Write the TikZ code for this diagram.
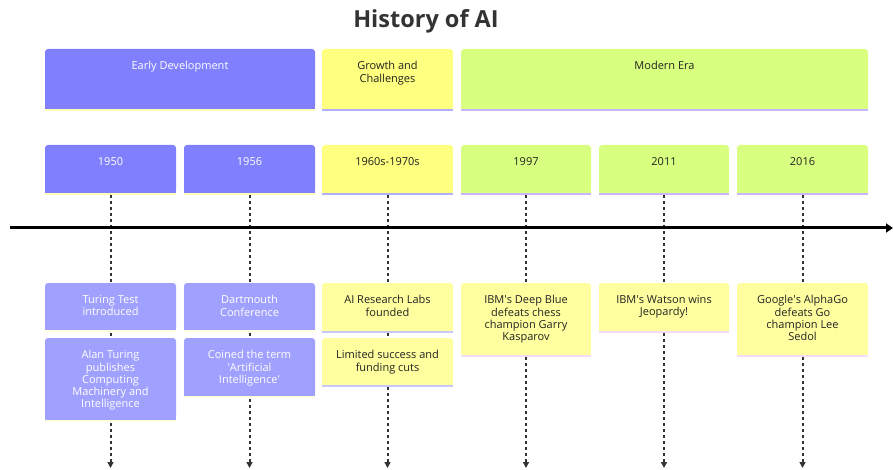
\documentclass[tikz,border=0pt]{standalone}
\usepackage{fontspec}
\setmainfont{Open Sans}
\usetikzlibrary{arrows.meta,backgrounds}
\definecolor{purSec}{HTML}{8080FF}
\definecolor{purEv}{HTML}{A0A0FF}
\definecolor{yelSec}{HTML}{FFFF80}
\definecolor{yelEv}{HTML}{FFFFA0}
\definecolor{grnSec}{HTML}{D9FF80}
\definecolor{lnPur}{HTML}{FFFFB8}
\definecolor{lnPurEv}{HTML}{FFFFE0}
\definecolor{lnYel}{HTML}{B0B0FF}
\definecolor{lnYelEv}{HTML}{C8C8FF}
\definecolor{lnGrn}{HTML}{C8B4FF}
\definecolor{lnModEv}{HTML}{F3DCFF}
\definecolor{darktxt}{HTML}{222222}
\definecolor{titletxt}{HTML}{333333}
\definecolor{dashcol}{HTML}{333333}
\tikzset{
  tlshape/.style={rectangle, rounded corners=3pt, inner sep=0pt, outer sep=0pt, draw=none},
  tltext/.style={inner sep=0pt, outer sep=0pt, align=center, font=\fontsize{11}{12.2}\selectfont},
  tldash/.style={draw=dashcol, line width=2pt, dash pattern=on 3pt off 3pt, -{Triangle[length=6pt,width=6pt]}},
  tlaxis/.style={draw=black, line width=3pt, -{Triangle[length=7pt,width=9pt]}},
}
% name, x, y, w, h, fill, line, textcolour, text
\newcommand{\tlbox}[9]{%
  \node[tlshape, fill=#6, minimum width=#4pt, minimum height=#5pt, anchor=north west] (#1) at (#2,#3) {};
  \fill[#6] ([yshift=4pt]#1.south west) rectangle (#1.south east);
  \draw[#7, line width=2pt] ([yshift=-1pt]#1.south west) -- ([yshift=-1pt]#1.south east);
  \node[tltext, text=#8, anchor=north] (#1-t) at ([yshift=-12.5pt]#1.north) {#9};
}
\newcommand{\q}{\textquotesingle}
\begin{document}
\begin{tikzpicture}[x=1pt,y=-1pt]
\useasboundingbox (0,0) rectangle (893,470);
\node[font=\bfseries\fontsize{23.5}{28}\selectfont, text=titletxt, anchor=base, inner sep=0pt] (title) at (426,28) {History of AI};
% sections
\tlbox{s1}{45}{49}{270}{60}{purSec}{lnPur}{white}{Early Development}
\tlbox{s2}{322}{49}{131}{60}{yelSec}{lnYel}{darktxt}{Growth and\\Challenges}
\tlbox{s3}{461}{49}{407}{60}{grnSec}{lnGrn}{darktxt}{Modern Era}
% years
\tlbox{y1}{45}{145}{131}{48}{purSec}{lnPur}{white}{1950}
\tlbox{y2}{184}{145}{131}{48}{purSec}{lnPur}{white}{1956}
\tlbox{y3}{322}{145}{131}{48}{yelSec}{lnYel}{darktxt}{1960s-1970s}
\tlbox{y4}{461}{145}{130}{48}{grnSec}{lnGrn}{darktxt}{1997}
\tlbox{y5}{599}{145}{130}{48}{grnSec}{lnGrn}{darktxt}{2011}
\tlbox{y6}{737}{145}{131}{48}{grnSec}{lnGrn}{darktxt}{2016}
% end coordinates
\coordinate (b1) at (y1.south |- 0,468);
\coordinate (b2) at (y2.south |- 0,468);
\coordinate (b3) at (y3.south |- 0,468);
\coordinate (b4) at (y4.south |- 0,468);
\coordinate (b5) at (y5.south |- 0,468);
\coordinate (b6) at (y6.south |- 0,468);
\begin{pgfonlayer}{background}
\foreach \i in {1,...,6} { \draw[tldash] ([yshift=-2pt]y\i.south) -- (b\i); }
\end{pgfonlayer}
% axis
\coordinate (axL) at (10,228);
\coordinate (axR) at (893,228);
\draw[tlaxis] (axL) -- (axR);
% events
\tlbox{e1a}{45}{283}{131}{47}{purEv}{lnPurEv}{white}{Turing Test\\introduced}
\tlbox{e1b}{45}{338}{131}{82}{purEv}{lnPurEv}{white}{Alan Turing\\publishes\\Computing\\Machinery and\\Intelligence}
\tlbox{e2a}{184}{283}{131}{47}{purEv}{lnPurEv}{white}{Dartmouth\\Conference}
\tlbox{e2b}{184}{338}{131}{58}{purEv}{lnPurEv}{white}{Coined the term\\\q Artificial\\Intelligence\q}
\tlbox{e3a}{322}{283}{131}{48}{yelEv}{lnYelEv}{darktxt}{AI Research Labs\\founded}
\tlbox{e3b}{322}{338}{131}{47}{yelEv}{lnYelEv}{darktxt}{Limited success and\\funding cuts}
\tlbox{e4a}{461}{283}{130}{72}{yelEv}{lnModEv}{darktxt}{IBM\q s Deep Blue\\defeats chess\\champion Garry\\Kasparov}
\tlbox{e5a}{599}{283}{130}{48}{yelEv}{lnModEv}{darktxt}{IBM\q s Watson wins\\Jeopardy!}
\tlbox{e6a}{737}{283}{131}{72}{yelEv}{lnModEv}{darktxt}{Google\q s AlphaGo\\defeats Go\\champion Lee\\Sedol}
\end{tikzpicture}
\end{document}
